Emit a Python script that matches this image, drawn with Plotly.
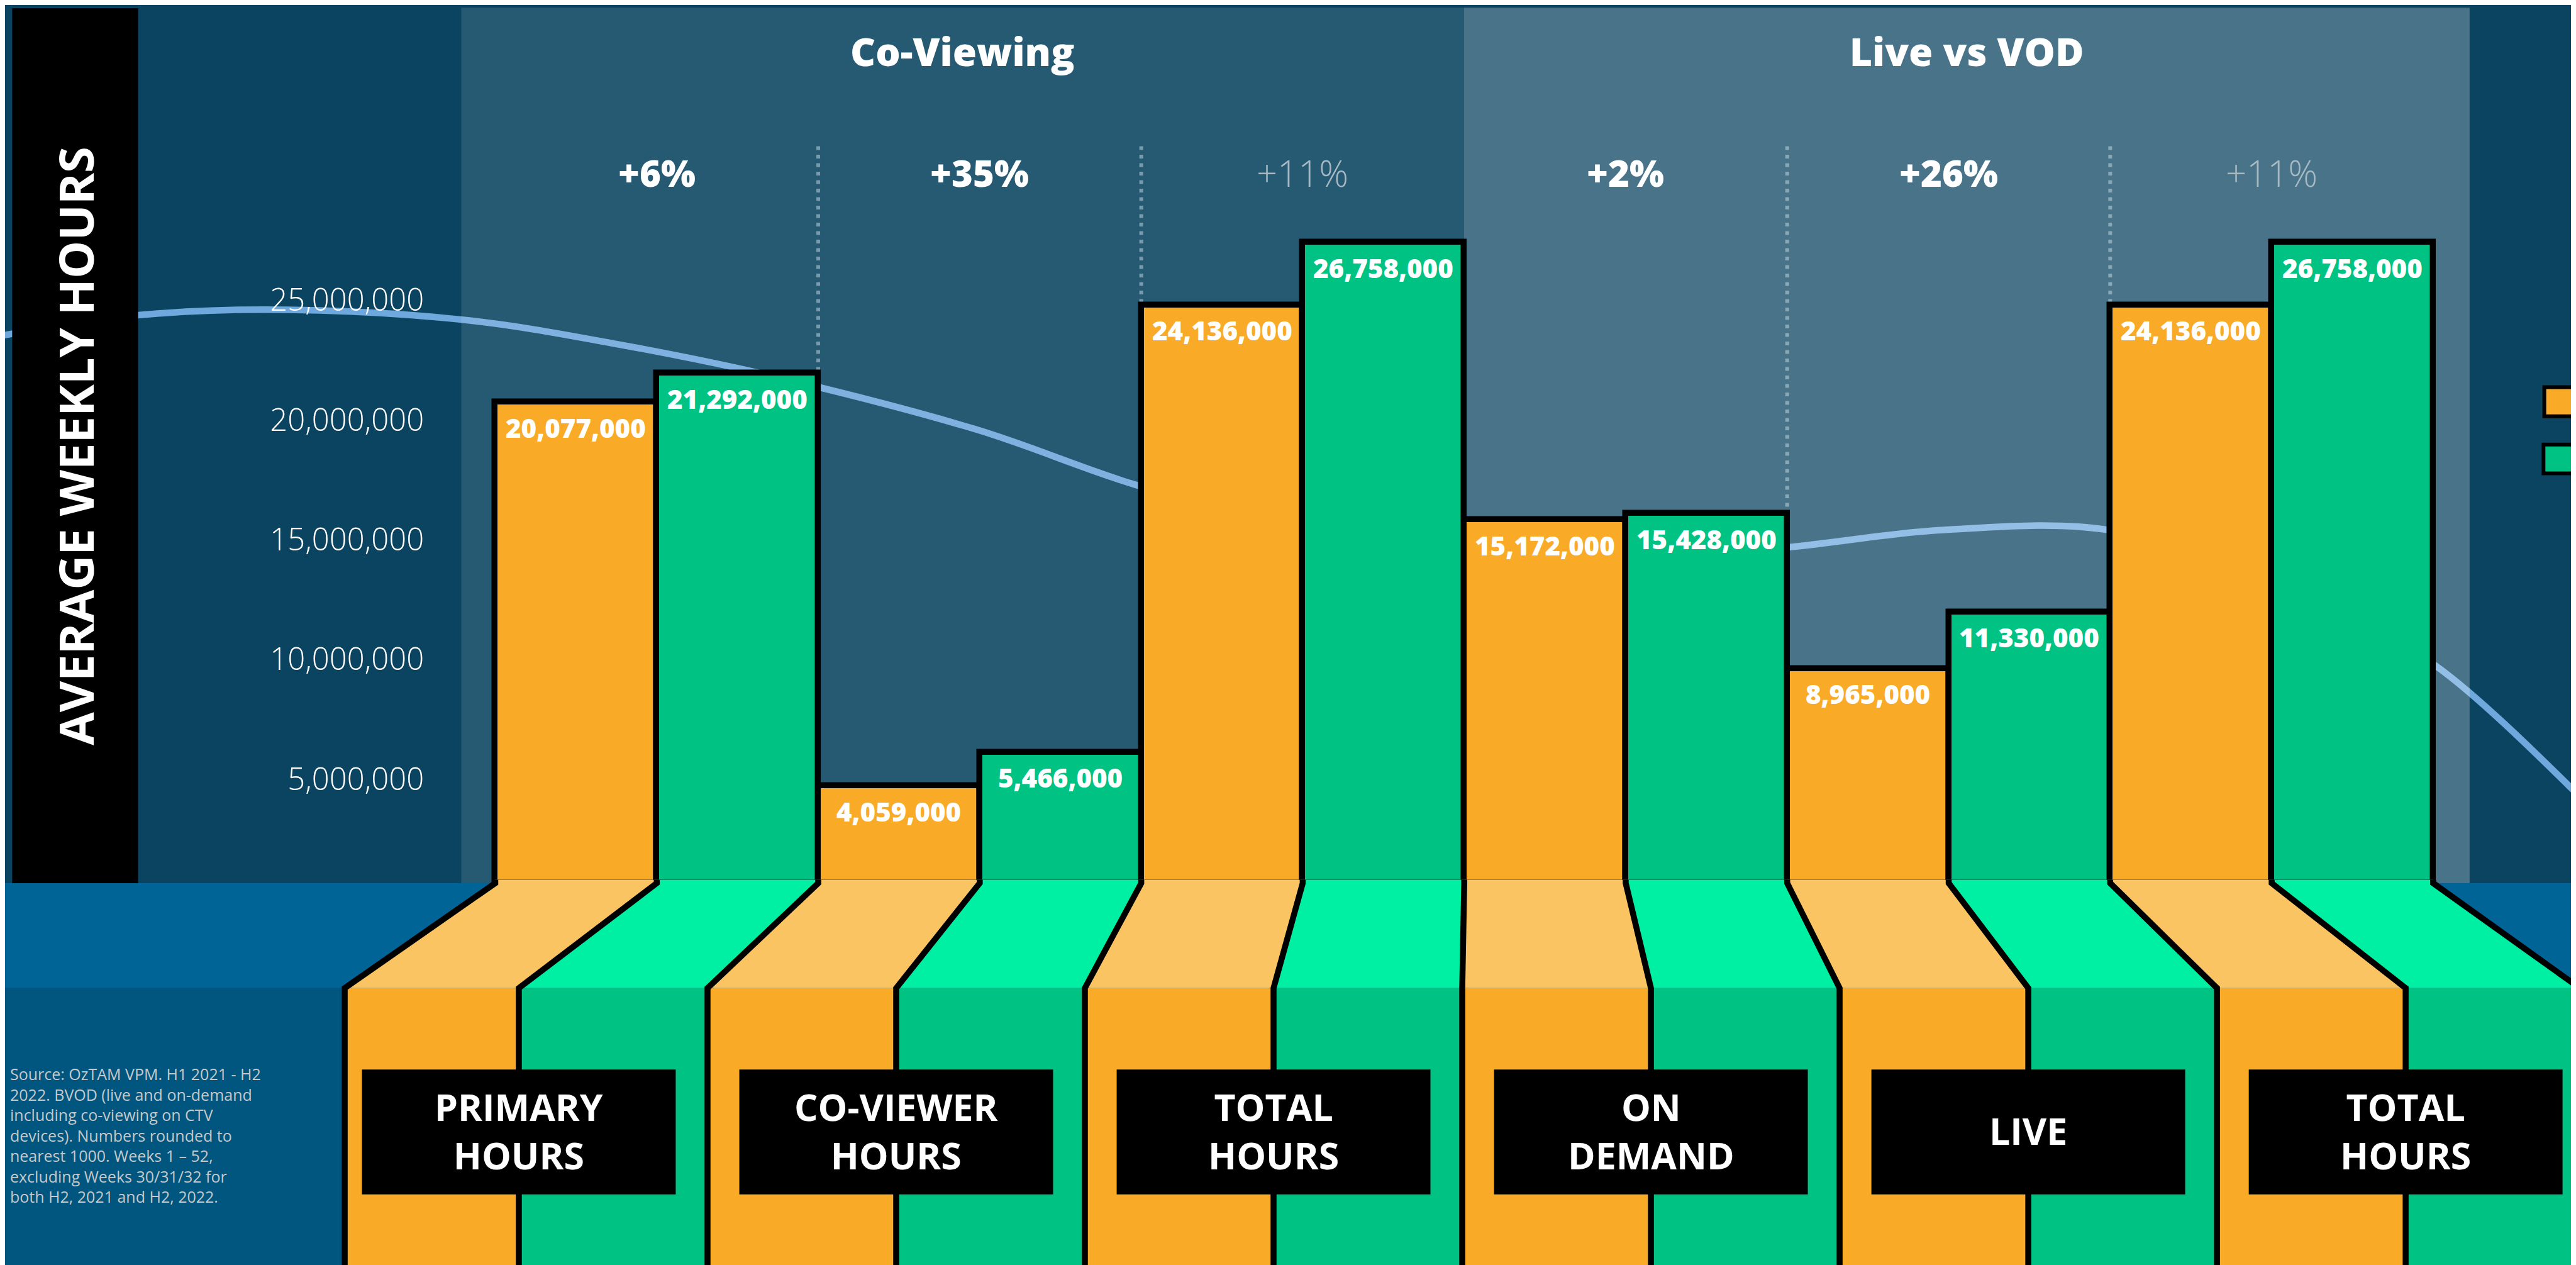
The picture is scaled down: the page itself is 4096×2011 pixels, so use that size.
import plotly.graph_objects as go

# ---------------- data ----------------
categories = ["PRIMARY<br>HOURS", "CO-VIEWER<br>HOURS", "TOTAL<br>HOURS",
              "ON<br>DEMAND", "LIVE", "TOTAL<br>HOURS"]
groups = ["Co-Viewing", "Live vs VOD"]
group_sizes = [3, 3]
series_names = ["H2 2021", "H2 2022"]
h2_2021 = [20077000, 4059000, 24136000, 15172000, 8965000, 24136000]
h2_2022 = [21292000, 5466000, 26758000, 15428000, 11330000, 26758000]
changes = ["+6%", "+35%", "+11%", "+2%", "+26%", "+11%"]
change_emphasis = [True, True, False, True, True, False]
y_ticks = [5000000, 10000000, 15000000, 20000000, 25000000]
y_tick_text = [f"{v:,}" for v in y_ticks]
y_title = "AVERAGE WEEKLY HOURS"
source_lines = [
    "Source: OzTAM VPM. H1 2021 - H2",
    "2022. BVOD (live and on-demand",
    "including co-viewing on CTV",
    "devices). Numbers rounded to",
    "nearest 1000. Weeks 1 \u2013 52,",
    "excluding Weeks 30/31/32 for",
    "both H2, 2021 and H2, 2022.",
]

# ---------------- layout geometry (reference layout units 1568 x 770) ----------------
W, H = 4096, 2011
RW, RH = 1568.0, 770.0

X0, DX = 347.55, 98.3      # px of bar position 0, px per bar
Y0, DY = 534.5, 14.58      # px of value 0, px per million


def xd(px):
    return (px - X0) / DX


def yd(py):
    return (Y0 - py) / DY * 1e6


def xp(px):
    return px / RW


def yp(py):
    return 1 - py / RH


def eb(j):
    # x (px) of the j-th column edge at the bottom of the fan
    c, w = 887.0, 114.85
    if j == 0:
        return c - 5 * w - 106
    if j == 12:
        return c + 5 * w + 106
    return c + (j - 6) * w


ORANGE, GREEN = "#f9ab27", "#00c383"
ORANGE_L, GREEN_L = "#fbc462", "#00f0a3"
BG, BAND1, BAND2 = "#0b4460", "#006497", "#00567f"
WAVE = "#6fa8dc"
FONT = "Open Sans, Lato, sans-serif"
OUTLINE = 9.5

n = len(categories)
pos_a = [2 * i for i in range(n)]
pos_b = [2 * i + 1 for i in range(n)]
n_bars = 2 * n

fig = go.Figure()
fig.add_trace(go.Bar(name=series_names[0], x=pos_a, y=h2_2021, width=1,
                     marker=dict(color=ORANGE, line=dict(color="black", width=OUTLINE)),
                     showlegend=False))
fig.add_trace(go.Bar(name=series_names[1], x=pos_b, y=h2_2022, width=1,
                     marker=dict(color=GREEN, line=dict(color="black", width=OUTLINE)),
                     showlegend=False))

shapes = []


def rect_px(x0, y0, x1, y1, fill, layer="below", line=None):
    return dict(type="rect", xref="paper", yref="paper",
                x0=xp(x0), x1=xp(x1), y0=yp(y1), y1=yp(y0),
                fillcolor=fill, line=line or dict(width=0), layer=layer)


# bottom bands
shapes.append(rect_px(-5, Y0, RW + 5, 598.4, BAND1))
shapes.append(rect_px(-5, 598.4, RW + 5, RH + 5, BAND2))

# decorative wave (drawn under the translucent panels)
wave_pts = [(-10, 202.5), (81, 188.8), (172, 185.5), (278, 191.5), (373, 206.5),
            (470, 226.5), (590, 258), (688, 292), (790, 318), (900, 333),
            (1000, 336), (1086, 330), (1180, 319.5), (1280, 319.5), (1380, 350),
            (1480, 402.5), (1580, 494)]


def bez_path(pts):
    d = f"M{xp(pts[0][0]):.5f},{yp(pts[0][1]):.5f}"
    m = len(pts)
    for i in range(m - 1):
        p0 = pts[max(i - 1, 0)]
        p1 = pts[i]
        p2 = pts[i + 1]
        p3 = pts[min(i + 2, m - 1)]
        c1 = (p1[0] + (p2[0] - p0[0]) / 6, p1[1] + (p2[1] - p0[1]) / 6)
        c2 = (p2[0] - (p3[0] - p1[0]) / 6, p2[1] - (p3[1] - p1[1]) / 6)
        d += (f" C{xp(c1[0]):.5f},{yp(c1[1]):.5f} {xp(c2[0]):.5f},{yp(c2[1]):.5f}"
              f" {xp(p2[0]):.5f},{yp(p2[1]):.5f}")
    return d


shapes.append(dict(type="path", xref="paper", yref="paper", path=bez_path(wave_pts),
                   line=dict(color=WAVE, width=10.5), fillcolor="rgba(0,0,0,0)",
                   layer="below"))

# group panels
shapes.append(rect_px(277.7, 1.6, 888.1, Y0, "rgba(255,255,255,0.115)"))
shapes.append(rect_px(888.1, 1.6, 1500.2, Y0, "rgba(255,255,255,0.25)"))

# y-title box
shapes.append(rect_px(4.35, 1.9, 81, Y0, "black"))

# dotted separators between pairs inside each group
start = 0
for gs in group_sizes:
    for k in range(gs - 1):
        b = 2 * (start + k) + 1.5
        shapes.append(dict(type="line", xref="x", yref="y", x0=b, x1=b,
                           y0=yd(86), y1=0,
                           line=dict(color="rgba(200,220,230,0.5)", width=6,
                                     dash="6px,7.5px"),
                           layer="below"))
    start += gs

# perspective base under the bars
ytc = yd(Y0 - 2.0)
yb = yd(598.4)
ybot = yd(RH + 10)
for j in range(n_bars):
    light = ORANGE_L if j % 2 == 0 else GREEN_L
    base = ORANGE if j % 2 == 0 else GREEN
    xlt, xrt = j - 0.5, j + 0.5
    xlb, xrb = xd(eb(j)), xd(eb(j + 1))
    shapes.append(dict(type="path", xref="x", yref="y", layer="above",
                       path=(f"M{xlt},{ytc} L{xrt},{ytc} L{xrt},0 L{xrb},{yb} "
                             f"L{xlb},{yb} L{xlt},0 Z"),
                       fillcolor=light, line=dict(width=0)))
    shapes.append(dict(type="path", xref="x", yref="y", layer="above",
                       path=f"M{xlb},{yb} L{xrb},{yb} L{xrb},{ybot} L{xlb},{ybot} Z",
                       fillcolor=base, line=dict(width=0)))
for j in range(n_bars + 1):
    xt = j - 0.5
    xb = xd(eb(j))
    shapes.append(dict(type="path", xref="x", yref="y", layer="above",
                       path=f"M{xt},{ytc} L{xt},0 L{xb},{yb} L{xb},{ybot}",
                       fillcolor="rgba(0,0,0,0)",
                       line=dict(color="black", width=OUTLINE)))

# category label boxes
half = 95.5 / DX
for k in range(n):
    c = xd(eb(2 * k + 1))
    shapes.append(dict(type="rect", xref="x", yref="paper", layer="above",
                       x0=c - half, x1=c + half, y0=yp(724), y1=yp(648),
                       fillcolor="black", line=dict(width=0)))

# legend swatches
shapes.append(rect_px(1545.65, 232.65, 1563.45, 250.35, ORANGE, layer="above",
                      line=dict(color="black", width=6)))
shapes.append(rect_px(1545.15, 267.55, 1563.15, 285.05, GREEN, layer="above",
                      line=dict(color="black", width=6)))

annotations = []


def ann(**kw):
    base = dict(showarrow=False, xanchor="center", yanchor="middle")
    base.update(kw)
    annotations.append(base)


ann(text=f"<b>{y_title}</b>", x=xp(42.7), y=yp(268.5), xref="paper", yref="paper",
    textangle=-90, font=dict(family=FONT, size=76, color="white", weight=800))

# group headers
panel_centers = [583.0, 1194.0]
for g, pc in zip(groups, panel_centers):
    ann(text=g, x=xp(pc), y=yp(28), xref="paper", yref="paper",
        font=dict(family=FONT, size=62, color="white", weight=800))

# percentage changes
for k, (ch, emph) in enumerate(zip(changes, change_emphasis)):
    ann(text=ch, x=2 * k + 0.5, y=yp(102), xref="x", yref="paper",
        font=dict(family=FONT, size=58, color="white" if emph else "#a7bac4",
                  weight=800 if emph else 300))

# bar value labels
for xs, ys in ((pos_a, h2_2021), (pos_b, h2_2022)):
    for xv, v in zip(xs, ys):
        ann(text=f"{v:,}", x=xv, y=v, xref="x", yref="y", yshift=-40,
            font=dict(family=FONT, size=42, color="white", weight=800))

# category labels
for k, cat in enumerate(categories):
    ann(text=cat, x=xd(eb(2 * k + 1)), y=yp(685), xref="x", yref="paper",
        font=dict(family=FONT, size=59, color="white", weight=700))

# source note
ann(text="<br>".join(source_lines), x=xp(2.3), y=yp(688), xref="paper", yref="paper",
    xanchor="left", align="left",
    font=dict(family=FONT, size=25, color="#c6c8c9"))

fig.update_layout(
    width=W, height=H,
    margin=dict(l=0, r=0, t=0, b=0, pad=0),
    paper_bgcolor=BG, plot_bgcolor="rgba(0,0,0,0)",
    barmode="overlay", bargap=0,
    showlegend=False,
    shapes=shapes, annotations=annotations,
    xaxis=dict(range=[xd(0), xd(RW)], domain=[0, 1], visible=False, fixedrange=True),
    yaxis=dict(range=[yd(RH), yd(0)], domain=[0, 1], anchor="free", position=xp(255),
               showgrid=False, zeroline=False, showline=False, ticks="",
               tickvals=y_ticks, ticktext=y_tick_text, ticklabelshift=25,
               tickfont=dict(family=FONT, size=49, color="white", weight=300),
               automargin=False, fixedrange=True),
)

fig.write_html("out.html")
